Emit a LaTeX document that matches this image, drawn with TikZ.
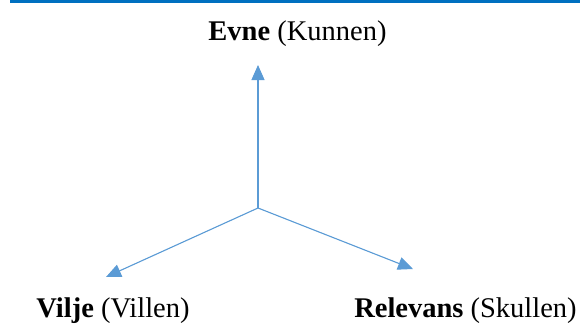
\documentclass[tikz,border=0pt]{standalone}
\usepackage{fontspec}
\setmainfont{Liberation Serif}
\usetikzlibrary{arrows.meta}
\definecolor{rulecol}{HTML}{0070C0}
\definecolor{axiscol}{HTML}{5B9BD5}
\tikzset{
  axis/.style={draw=axiscol, line width=1.1pt,
    -{Triangle[length=15pt,width=13pt]}, fill=axiscol},
  label/.style={anchor=base, inner sep=0pt, font=\fontsize{28.5}{34}\selectfont}
}
\begin{document}
\begin{tikzpicture}[x=1pt,y=1pt]
  \useasboundingbox (0,0) rectangle (580,333);
  % top rule
  \fill[rulecol] (10,330.3) rectangle (580,333);
  % origin and axis ends
  \coordinate (o) at (258,125);
  \coordinate (up) at (258,268);
  \coordinate (left) at (106,56);
  \coordinate (right) at (413,64);
  \draw[axis] (o) -- (up);
  \draw[axis] (o) -- (left);
  \draw[axis] (o) -- (right);
  % axis labels
  \node[label] (evne) at (297.5,293) {\textbf{Evne} (Kunnen)};
  \node[label] (vilje) at (113,16) {\textbf{Vilje} (Villen)};
  \node[label] (relevans) at (465.5,16) {\textbf{Relevans} (Skullen)};
\end{tikzpicture}
\end{document}
